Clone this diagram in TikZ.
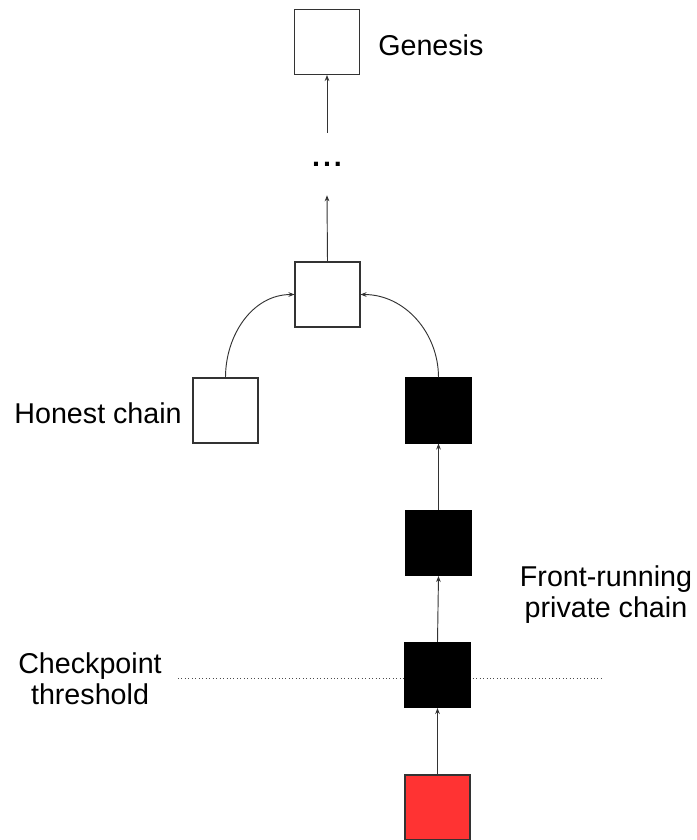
\documentclass[tikz,border=0pt]{standalone}
\usepackage{fontspec}
\setmainfont{Liberation Sans}
\usetikzlibrary{arrows.meta}
\definecolor{boxline}{HTML}{333333}
\definecolor{redblock}{HTML}{FF3333}
\begin{document}
\begin{tikzpicture}[x=0.75pt,y=-0.75pt,
  block/.style={draw=boxline,line width=0.8pt,minimum width=48.75pt,minimum height=48.75pt,inner sep=0pt},
  whiteblock/.style={block,fill=white},
  blackblock/.style={block,fill=black,draw=black},
  redb/.style={block,fill=redblock,draw=boxline},
  lbl/.style={font=\fontsize{21.5}{23.25}\selectfont,inner sep=0pt},
  link/.style={draw=black!80,line width=0.7pt,-{Stealth[length=4.5pt,width=3.5pt]}}]
\useasboundingbox (0,0) rectangle (697,840);
% threshold line
\coordinate (thL) at (178,678);
\coordinate (thR) at (602,678);
\draw[dotted,draw=black!70,line width=0.6pt] (thL) -- (thR);
% blocks
\node[whiteblock] (gen) at (327,42) {};
\node[lbl,anchor=west] (genlbl) at (378,45) {Genesis};
\node[inner sep=0pt,minimum height=46.5pt,font=\fontsize{21.5}{23.25}\selectfont\bfseries] (dots) at (327,164) {.\hspace{2.2pt}.\hspace{2.2pt}.};
\node[whiteblock] (mid) at (327.5,294.5) {};
\node[whiteblock] (hon) at (225.5,410.5) {};
\node[lbl,anchor=east] (honlbl) at (182,413) {Honest chain};
\node[blackblock] (b1) at (438.5,410.5) {};
\node[blackblock] (b2) at (438.5,543) {};
\node[blackblock] (b3) at (437.5,675) {};
\node[redb] (red) at (437.5,807.5) {};
\node[lbl,align=center] (chk) at (90,679) {Checkpoint\\threshold};
\node[lbl,align=center] (fr) at (606,595) {Front-running\\private chain};
% connectors
\draw[link] (dots.north) -- (gen.south);
\draw[link] (mid.north) -- (dots.south);
\draw[link] (hon.north) to[out=90,in=180] (mid.west);
\draw[link] (b1.north) to[out=90,in=0] (mid.east);
\draw[link] (b2.north) -- (b1.south);
\draw[link] (b3.north) -- (b2.south);
\draw[link] (red.north) -- (b3.south);
\end{tikzpicture}
\end{document}
